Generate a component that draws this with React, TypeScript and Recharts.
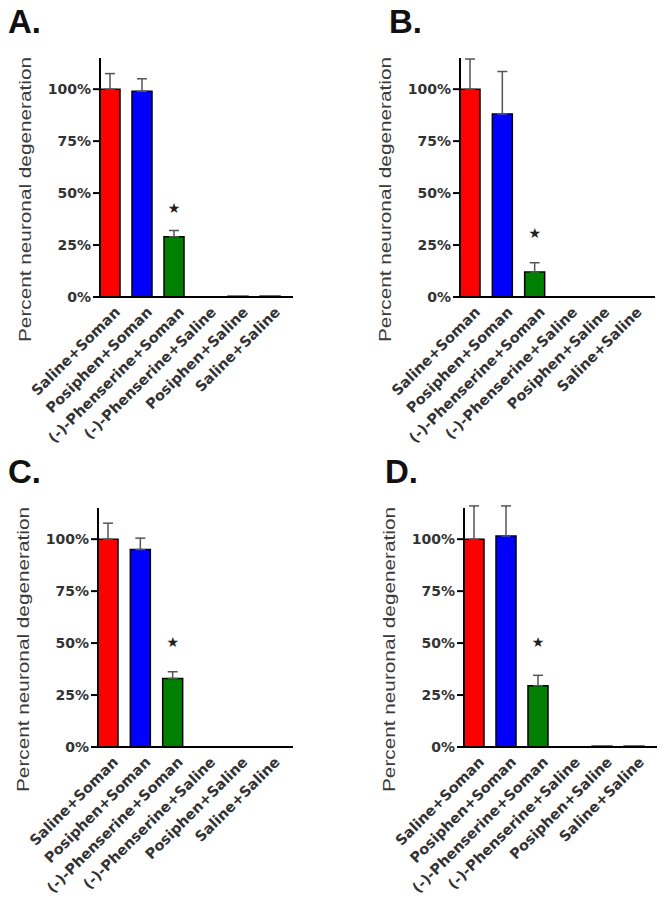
import React from 'react';
import { ComposedChart, Bar, Cell, ErrorBar, Scatter, XAxis, YAxis } from 'recharts';

const categories = [
  'Saline+Soman',
  'Posiphen+Soman',
  '(-)-Phenserine+Soman',
  '(-)-Phenserine+Saline',
  'Posiphen+Saline',
  'Saline+Saline',
];
const barColors = ['#ff0000', '#0000ff', '#007f00', '#007f00', '#0000ff', '#ff0000'];
const yTicks = [0, 25, 50, 75, 100];

// panel A
const valuesA = [100, 99, 29, 0, 0.4, 0.4];
const errorsA = [7.5, 6, 3, null, null, null];
const starsA = [null, null, 43, null, null, null];

// panel B
const valuesB = [100, 88, 12, 0, 0, 0];
const errorsB = [14.5, 20.5, 4.5, null, null, null];
const starsB = [null, null, 31, null, null, null];

// panel C
const valuesC = [100, 95, 33, 0, 0, 0];
const errorsC = [7.7, 5.5, 3.2, null, null, null];
const starsC = [null, null, 50.5, null, null, null];

// panel D
const valuesD = [100, 101.5, 29.5, 0, 0.4, 0.4];
const errorsD = [16, 14.5, 5, null, null, null];
const starsD = [null, null, 50.5, null, null, null];

const buildData = (values: number[], errors: (number | null)[], stars: (number | null)[]) =>
  categories.map((name, i) => ({
    name,
    value: values[i],
    err: errors[i] == null ? null : [0, errors[i]],
    star: stars[i],
  }));

const XTick = ({ x, y, payload }: any) => (
  <text
    transform={`translate(${x + 11},${y + 8}) rotate(-45)`}
    textAnchor="end"
    fontFamily="DejaVu Sans"
    fontWeight="bold"
    fontSize={14.5}
    fill="#333"
  >
    {payload.value}
  </text>
);

const StarShape = (props: any) => {
  const { cx, cy, payload } = props;
  if (payload?.star == null || !Number.isFinite(cy)) return null;
  return (
    <text x={cx} y={cy} textAnchor="middle" dominantBaseline="central" fontFamily="DejaVu Sans" fontSize={14} fill="#222">
      ★
    </text>
  );
};

const YTitle = ({ viewBox }: any) => {
  const cx = viewBox.x + viewBox.width - 75;
  const cy = viewBox.y + viewBox.height / 2 + 22;
  return (
    <text
      transform={`translate(${cx},${cy}) rotate(-90)`}
      textAnchor="middle"
      dominantBaseline="central"
      fontFamily="Liberation Sans, Arial, sans-serif"
      fontSize={17}
      fill="#3a3a3a"
      textLength={285}
      lengthAdjust="spacingAndGlyphs"
    >
      Percent neuronal degeneration
    </text>
  );
};

type PanelProps = {
  letter: string;
  left: number;
  top: number;
  axisX: number;
  xRight: number;
  letterX: number;
  data: any[];
};

const Panel = ({ letter, left, top, axisX, xRight, letterX, data }: PanelProps) => (
  <div style={{ position: 'absolute', left, top, width: 332, height: 448 }}>
    <div
      style={{
        position: 'absolute',
        left: letterX,
        top: 6,
        fontFamily: 'Liberation Sans, Arial, sans-serif',
        fontWeight: 'bold',
        fontSize: 33,
        lineHeight: '32px',
        color: '#111',
      }}
    >
      {letter}
    </div>
    <ComposedChart width={332} height={448} data={data} margin={{ top: 58, right: 332 - xRight, bottom: 11, left: 0 }}>
      <XAxis
        dataKey="name"
        interval={0}
        tickLine={false}
        axisLine={{ stroke: '#000', strokeWidth: 2 }}
        height={140}
        padding={{ left: -6, right: 7 }}
        tick={<XTick />}
      />
      <YAxis
        width={axisX}
        domain={[0, 115]}
        allowDataOverflow
        ticks={yTicks}
        tickFormatter={(v) => `${v}%`}
        axisLine={{ stroke: '#000', strokeWidth: 2 }}
        tickLine={{ stroke: '#000', strokeWidth: 2 }}
        tickSize={7}
        tick={{ fontFamily: 'DejaVu Sans', fontWeight: 'bold', fontSize: 14, fill: '#333' }}
        label={{ content: YTitle }}
      />
      <Bar dataKey="value" barSize={20} stroke="#000" strokeWidth={1.5} isAnimationActive={false}>
        {data.map((d, i) => (
          <Cell key={d.name} fill={barColors[i]} />
        ))}
        <ErrorBar dataKey="err" direction="y" width={5} stroke="#555" strokeWidth={1.5} />
      </Bar>
      <Scatter dataKey="star" shape={StarShape} isAnimationActive={false} />
    </ComposedChart>
  </div>
);

export default function App() {
  return (
    <div style={{ position: 'absolute', left: 0, top: 0, width: 664, height: 898, background: '#fff' }}>
      <Panel letter="A." left={0} top={0} axisX={100} xRight={293} letterX={8} data={buildData(valuesA, errorsA, starsA)} />
      <Panel letter="B." left={332} top={0} axisX={128} xRight={323} letterX={57} data={buildData(valuesB, errorsB, starsB)} />
      <Panel letter="C." left={0} top={450} axisX={98} xRight={293} letterX={8} data={buildData(valuesC, errorsC, starsC)} />
      <Panel letter="D." left={332} top={450} axisX={132} xRight={325} letterX={53} data={buildData(valuesD, errorsD, starsD)} />
    </div>
  );
}
